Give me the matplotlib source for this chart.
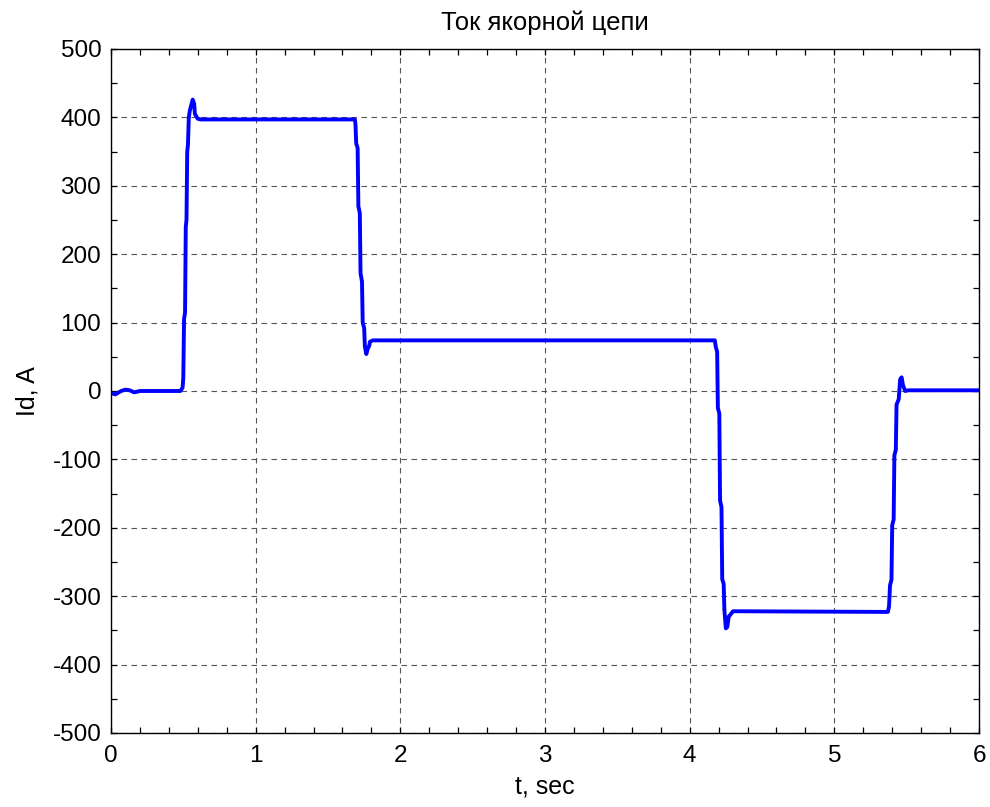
import numpy as np
import matplotlib
matplotlib.use('Agg')
import matplotlib.pyplot as plt
from matplotlib.ticker import MultipleLocator

# armature current vs time
t = [0.0, 0.03, 0.07, 0.10, 0.13, 0.16, 0.20, 0.30, 0.48, 0.495, 0.50,
     0.505, 0.512, 0.517, 0.522, 0.527, 0.532, 0.538, 0.545, 0.555, 0.565,
     0.575, 0.58, 0.60, 0.62,
     1.686, 1.69, 1.695, 1.705, 1.71, 1.72, 1.725, 1.735, 1.74, 1.75, 1.755,
     1.765, 1.775, 1.785, 1.79, 1.81,
     4.174, 4.18, 4.19, 4.195, 4.205, 4.21, 4.22, 4.225, 4.235, 4.24, 4.25,
     4.26, 4.27, 4.30,
     5.37, 5.378, 5.385, 5.395, 5.40, 5.41, 5.415, 5.425, 5.43, 5.445,
     5.455, 5.465, 5.475, 5.49, 5.51, 6.0]
Id = [-3, -5, 0, 2, 1, -2, 0, 0, 0, 5, 20,
      105, 115, 240, 250, 350, 360, 400, 410, 418, 426,
      420, 405, 398, 397,
      397, 390, 362, 355, 270, 260, 172, 160, 100, 92, 65,
      54, 62, 66, 72, 74,
      74, 65, 57, -25, -33, -160, -170, -275, -282, -320, -347,
      -345, -330, -322,
      -323, -315, -284, -276, -196, -188, -94, -86, -20, -12,
      17, 20, 8, 0, 1, 1]

plt.rcParams['font.family'] = ['Liberation Sans', 'DejaVu Sans']
plt.rcParams['axes.unicode_minus'] = False

fig = plt.figure(figsize=(9.9, 8.07), dpi=100)
ax = fig.add_axes([0.1121, 0.0917, 0.8768, 0.8476])

ax.plot(t, Id, color='#0000ff', lw=2.8, solid_joinstyle='round')

ax.set_xlim(0, 6)
ax.set_ylim(-500, 500)
ax.xaxis.set_major_locator(MultipleLocator(1))
ax.xaxis.set_minor_locator(MultipleLocator(0.2))
ax.yaxis.set_major_locator(MultipleLocator(100))
ax.yaxis.set_minor_locator(MultipleLocator(50))
ax.tick_params(which='both', direction='in', top=True, right=True,
               length=4, width=0.9, labelsize=17.5, pad=7)
ax.tick_params(axis='x', pad=9)
ax.grid(True, which='major', color='#555555', lw=0.8, linestyle=(0, (5, 4)))
for s in ax.spines.values():
    s.set_linewidth(1.0)

ax.set_title('Ток якорной цепи', fontsize=18.5, pad=14)
ax.set_xlabel('t, sec', fontsize=18, labelpad=5)
ax.set_ylabel('Id, A', fontsize=18, labelpad=9)

fig.savefig('out.png', dpi=100)
